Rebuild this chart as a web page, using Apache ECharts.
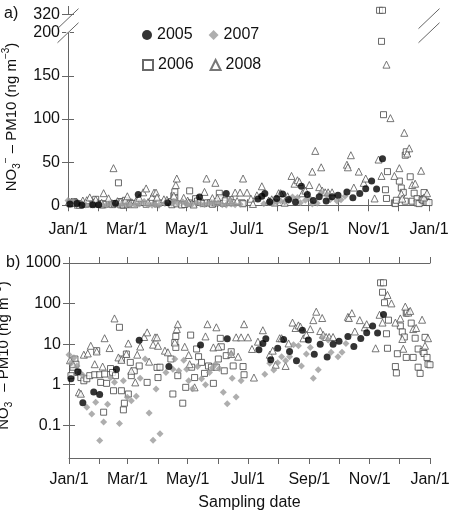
<!DOCTYPE html>
<html>
<head>
<meta charset="utf-8">
<script src="https://cdn.jsdelivr.net/npm/echarts@6/dist/echarts.min.js"></script>
<style>
  html, body { margin: 0; padding: 0; background: #fff; }
  #chart { width: 449px; height: 514px; }
</style>
</head>
<body>
<div id="chart"></div>
<script>
// day of year (0 = Jan/1), NO3- PM10 in ng m-3
var d2005 = [[2,1.4],[9,2.1],[14,0.36],[25,0.66],[31,0.57],[48,2.4],[71,12.5],[101,2.8],[133,9.5],[160,13.5],
  [192,7.3],[196,10.3],[199,13.5],[204,4.1],[211,7.9],[217,13],[223,6.6],[230,3.9],[236,22],[242,12.6],
  [248,5.6],[254,10],[261,4.8],[267,10],[273,11.7],[282,15.5],[288,8.8],[295,13.7],[301,19],[307,28],
  [312,18.8],[318,54]];

var d2006 = [[2,1.67],[4,2.7],[6,4.3],[7,3.2],[9,2.0],[12,1.5],[15,1.25],[18,1.4],[21,1.67],[26,1.76],
  [28,6.9],[31,1.76],[32,1.14],[35,0.21],[36,1.83],[38,1.08],[42,2.5],[44,2.0],[45,0.71],[47,1.67],
  [51,26],[53,4.3],[53,0.71],[55,0.24],[56,0.35],[58,5.7],[60,0.59],[62,3.55],[63,1.67],[66,2.2],
  [71,2.9],[79,1.14],[89,2.67],[90,1.5],[92,2.7],[103,4.3],[105,0.59],[107,11],[108,15.5],[108,8.3],
  [110,1.67],[115,0.35],[118,0.86],[123,16.7],[124,2.7],[127,1.5],[129,7.6],[131,4.9],[134,3.55],[137,1.9],
  [141,2.9],[144,2.7],[146,1.08],[149,2.7],[151,4.3],[153,13.9],[154,8.6],[157,2.2],[159,5.2],[164,6.5],
  [166,2.9],[176,2.8],[177,1.76],
  [315,325],[318,325],[317,190],[319,105],[321,18],[322,7.9],[323,39],[330,2.8],[331,1.95],[332,5.8],
  [335,28],[337,20],[339,15],[341,58],[342,62],[341,4.7],[346,33],[348,4.7],[350,14],[353,7.6],
  [353,2.7],[355,1.9],[358,6.6],[359,5.9],[360,14.7],[362,4.7],[363,3.2],[365,3.1]];

var d2007 = [[0,5.5],[2,3.4],[5,4.6],[8,2.9],[11,2.0],[14,1.7],[18,0.28],[23,0.19],[27,0.37],[31,0.042],
  [35,0.12],[39,0.33],[42,1.5],[46,1.15],[51,0.11],[55,1.25],[59,0.49],[63,0.4],[68,0.52],[72,1.45],
  [77,4.3],[81,0.2],[85,0.043],[88,0.78],[92,0.062],[98,2.0],[105,2.4],[107,4.3],[111,2.2],[116,4.0],
  [119,2.4],[121,1.25],[125,0.8],[130,2.8],[134,1.4],[138,1.0],[142,2.0],[145,2.6],[148,3.2],[152,2.5],
  [156,0.65],[160,0.34],[164,5.7],[165,1.45],[169,0.5],[174,1.25],[198,1.8],[203,3.4],[207,2.3],[211,3.5],
  [215,4.9],[219,3.9],[223,4.9],[227,9.7],[232,9.1],[235,2.9],[240,5.7],[244,8.3],[247,1.45],[252,2.35],
  [256,14.6],[262,12.6],[265,6.3],[272,4.9],[276,6.3],[280,10.4]];

var d2008 = [[1,4],[4,3.2],[10,0.65],[12,0.6],[15,5.5],[19,5.9],[22,9.1],[26,3.2],[28,6.6],[34,2.8],
  [36,14],[41,8],[46,43],[50,4.7],[53,4.1],[58,5.7],[60,10.4],[63,2.2],[67,1.14],[69,5.5],
  [72,8.7],[76,15],[79,19.5],[81,3.7],[85,9.7],[87,14.7],[89,14.7],[90,9.1],[97,6.9],[100,6.3],
  [107,11],[109,23.5],[110,31],[117,8.6],[121,5.4],[122,3.2],[127,0.86],[138,15.5],[140,31],[146,8.3],
  [149,26],[151,8.6],[164,5.7],[169,14.7],[171,4.9],[174,14.7],[177,31],[181,14.7],[185,7.6],[187,1.5],
  [191,11.5],[196,22],[203,5.5],[206,6.9],[209,3.1],[213,14],[215,14],[219,2.9],[222,10.4],[226,34],
  [229,25],[232,29],[234,27],[237,13.9],[240,17],[244,23.5],[247,39],[250,63],[254,21],[256,44],
  [257,17],[260,15],[263,15],[267,15],[282,47],[283,44],[286,58],[289,20.5],[294,39],[299,26],
  [301,31],[310,7.9],[314,53],[317,34],[322,163],[326,101],[330,34],[335,43],[337,13.4],[338,7.7],
  [340,84],[343,60],[345,66],[348,23.5],[351,25],[357,40],[360,9.1],[363,14]];

var monthTicks = [0,31,59,90,120,151,181,212,243,273,304,334,365];
var labelDays = [0,59,120,181,243,304,365];
var labelNames = ['Jan/1','Mar/1','May/1','Jul/1','Sep/1','Nov/1','Jan/1'];
var linTicks = [0,50,100,150,200,320];
var logTicks = [0.1,1,10,100,1000];

var FONT = '"Liberation Sans", Arial, Helvetica, sans-serif';
var AX = '#666';

var chart = echarts.init(document.getElementById('chart'));

function dayLabel(v) {
  var i = labelDays.indexOf(Math.round(v));
  return i >= 0 ? labelNames[i] : '';
}

function xAx(grid, top, margin, name) {
  return {
    type: 'value', gridIndex: grid, min: 0, max: 365,
    position: top ? 'top' : 'bottom',
    axisLine: { show: true, lineStyle: { color: AX, width: 1 } },
    axisTick: { show: true, length: 6, customValues: monthTicks, lineStyle: { color: AX } },
    axisLabel: { show: !top, customValues: labelDays, formatter: dayLabel, margin: margin,
      color: '#111', fontSize: 16, fontFamily: FONT },
    splitLine: { show: false },
    name: name || '', nameLocation: 'middle', nameGap: 37,
    nameTextStyle: { color: '#111', fontSize: 16, fontFamily: FONT }
  };
}

var yName = '{b|NO}{sub|3}{sup|\u2212}{b| \u2013 PM10 (ng m}{sup|\u22123}{b|)}';
function yNameStyle(pad) {
  return {
    color: '#111', fontFamily: FONT, fontSize: 15, padding: pad,
    rich: {
      b: { fontSize: 15, lineHeight: 21, fontFamily: FONT, color: '#111', verticalAlign: 'middle' },
      sub: { fontSize: 10, lineHeight: 10, fontFamily: FONT, color: '#111', verticalAlign: 'bottom' },
      sup: { fontSize: 10, lineHeight: 10, fontFamily: FONT, color: '#111', verticalAlign: 'top' }
    }
  };
}

function yLin(right) {
  return {
    type: 'value', gridIndex: 0, min: -5.5, max: 330,
    position: right ? 'right' : 'left',
    breaks: [{ start: 200, end: 320, gap: 21 }],
    breakArea: { show: false, itemStyle: { color: 'transparent', borderColor: 'transparent' } },
    axisLine: { show: true, lineStyle: { color: AX } },
    axisTick: { show: true, length: 6, customValues: linTicks, lineStyle: { color: AX } },
    axisLabel: { show: !right, customValues: linTicks, margin: 8, color: '#111', fontSize: 16, fontFamily: FONT },
    splitLine: { show: false },
    name: right ? '' : yName, nameLocation: 'middle', nameRotate: 90, nameGap: 45,
    nameTextStyle: yNameStyle([0, 18, 0, 0])
  };
}

function yLog(right) {
  return {
    type: 'log', logBase: 10, gridIndex: 1, min: 0.0156, max: 1000,
    position: right ? 'right' : 'left',
    axisLine: { show: true, lineStyle: { color: AX } },
    axisTick: { show: true, length: 6, customValues: logTicks, lineStyle: { color: AX } },
    axisLabel: { show: !right, customValues: logTicks, margin: 8, color: '#111', fontSize: 16, fontFamily: FONT,
      formatter: function (v) { return String(+v.toPrecision(3)); } },
    minorTick: { show: false },
    splitLine: { show: false },
    name: right ? '' : yName, nameLocation: 'middle', nameRotate: 90, nameGap: 49,
    nameTextStyle: yNameStyle([0, 0, 0, 10])
  };
}

var styles = {
  '2005': { symbol: 'circle', size: 7, item: { color: '#000' } },
  '2006': { symbol: 'rect', size: 6, item: { color: '#fff', borderColor: '#444', borderWidth: 1 } },
  '2007': { symbol: 'diamond', size: 7, item: { color: '#9a9a9a' } },
  '2008': { symbol: 'triangle', size: 7, item: { color: '#fff', borderColor: '#555', borderWidth: 1 } }
};
var sets = [['2006', d2006], ['2008', d2008], ['2007', d2007], ['2005', d2005]];

var series = [];
[0, 1].forEach(function (p) {
  sets.forEach(function (s) {
    var st = styles[s[0]];
    series.push({
      name: s[0], type: 'scatter',
      xAxisIndex: p * 2, yAxisIndex: p * 2,
      data: s[1], symbol: st.symbol, symbolSize: st.size,
      itemStyle: st.item, silent: true, animation: false
    });
  });
});

function legend(names, top) {
  return {
    data: names, left: 137, top: top, orient: 'horizontal',
    itemWidth: 10, itemHeight: 10, itemGap: 16,
    textStyle: { color: '#111', fontSize: 16, fontFamily: FONT, padding: [0, 0, 0, 0] },
    selectedMode: false
  };
}

var option = {
  animation: false,
  backgroundColor: '#fff',
  grid: [
    { left: 68, top: 6, width: 361, height: 204, outerBoundsMode: 'none' },
    { left: 69, top: 263, width: 361, height: 195, outerBoundsMode: 'none' }
  ],
  legend: [legend(['2005', '2007'], 22), legend(['2006', '2008'], 52)],
  xAxis: [xAx(0, false, 12), xAx(0, true), xAx(1, false, 14, 'Sampling date'), xAx(1, true)],
  yAxis: [yLin(false), yLin(true), yLog(false), yLog(true)],
  series: series,
  graphic: [
    { type: 'text', left: 4, top: 6, style: { text: 'a)', fontSize: 16, fontFamily: FONT, fill: '#111' } },
    { type: 'text', left: 6, top: 255, style: { text: 'b)', fontSize: 16, fontFamily: FONT, fill: '#111' } }
  ]
};

chart.setOption(option);

// break marks on the left and right of panel a
var y200 = chart.convertToPixel({ yAxisIndex: 0 }, 200);
var y320 = chart.convertToPixel({ yAxisIndex: 0 }, 320);
var marks = [];
[68, 429].forEach(function (x) {
  marks.push({ type: 'rect', shape: { x: x - 2, y: y320 + 2, width: 4, height: y200 - y320 - 2 },
    style: { fill: '#fff' }, z: 100 });
  [y320 + 4, y200].forEach(function (yc) {
    marks.push({ type: 'line', shape: { x1: x - 10.5, y1: yc + 10, x2: x + 10.5, y2: yc - 10 },
      style: { stroke: AX, lineWidth: 1 }, z: 101 });
  });
});
chart.setOption({ graphic: option.graphic.concat(marks) });
</script>
</body>
</html>
